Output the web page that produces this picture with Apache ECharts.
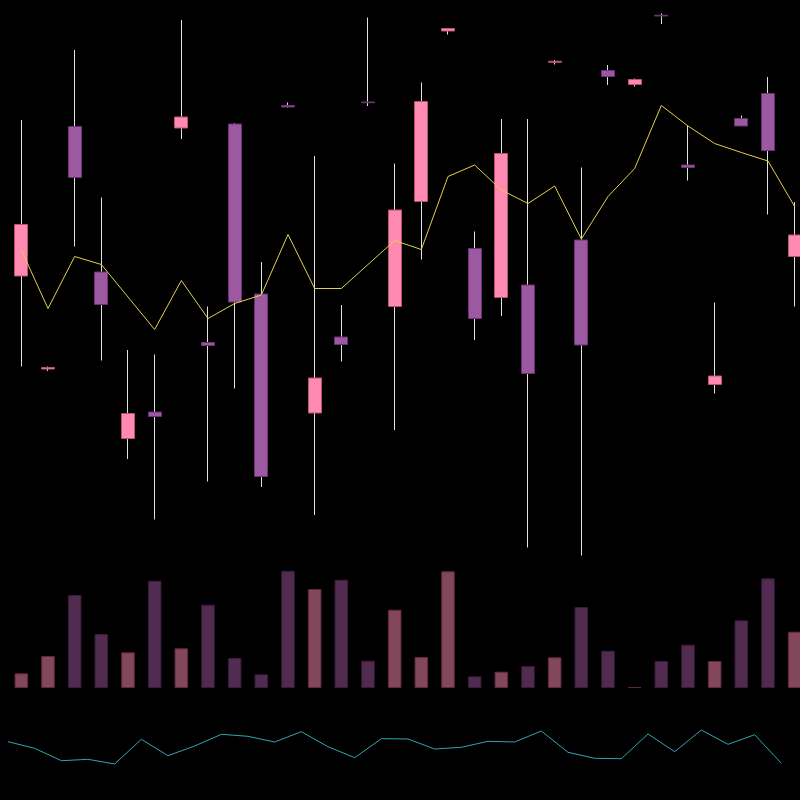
<!DOCTYPE html>
<html>
<head>
<meta charset="utf-8">
<script src="https://cdn.jsdelivr.net/npm/echarts@6/dist/echarts.min.js"></script>
<style>html,body{margin:0;padding:0;background:#000;}#c{width:800px;height:800px;}</style>
</head>
<body>
<div id="c"></div>
<script>
const categories = Array.from({length: 30}, (_, i) => 'D' + (i + 1));
const opens  = [56.8, 38.2, 86.7, 57.6, 24.3, 29.6, 86.4, 43.5, 87.2, 53.2, 90.9, 29.4, 44.6, 91.6, 50.7, 71.7, 105.8, 62.3, 52.5, 55.0, 99.55, 64.0, 97.9, 95.1, 108.95, 79.0, 35.1, 88.3, 93.3, 60.7];
const closes = [67.1, 38.5, 76.5, 51.1, 29.3, 28.7, 88.6, 42.9, 51.6, 16.7, 90.6, 36.4, 43.1, 91.45, 70.0, 91.7, 106.3, 48.3, 81.3, 37.3, 99.75, 43.0, 96.7, 96.1, 108.8, 78.5, 36.8, 86.8, 81.9, 65.0];
const lows   = [38.7, 37.8, 62.7, 39.9, 20.2, 8.1, 84.2, 15.7, 34.3, 14.6, 90.5, 9.0, 39.7, 90.8, 26.0, 60.1, 105.1, 44.0, 48.8, 2.5, 99.1, 0.9, 95.0, 94.7, 107.2, 75.9, 33.3, 86.8, 69.1, 50.7];
const highs  = [88.0, 38.7, 102.0, 72.5, 42.0, 41.1, 108.0, 50.7, 87.4, 59.6, 91.5, 80.8, 51.0, 108.5, 79.3, 95.5, 106.4, 65.7, 88.2, 88.2, 100.0, 78.5, 99.0, 96.3, 109.3, 86.8, 51.5, 88.9, 96.6, 71.6];
const maLine = [62.0, 50.3, 60.7, 59.1, 52.6, 46.1, 55.9, 48.3, 51.3, 53.0, 65.1, 54.3, 54.3, 59.1, 63.9, 62.1, 76.7, 79.0, 74.0, 71.3, 74.8, 64.2, 72.7, 78.3, 90.9, 86.8, 83.3, 81.5, 79.8, 70.7];
const volumes = [14.7, 32, 93, 54, 35.7, 107.3, 39.7, 83.3, 30, 13.7, 117.3, 99, 108.3, 27.3, 78.3, 31, 116.7, 11.7, 16.3, 22, 30.7, 81, 37.3, 1, 27, 43.3, 27, 67.7, 109.7, 56.3];
const lowerLine = [38.3, 31.7, 19.3, 20.7, 16.0, 40.7, 24.3, 34.0, 45.7, 43.7, 38.0, 48.3, 33.3, 22.3, 41.3, 41.0, 31.0, 32.7, 38.7, 38.0, 49.0, 27.7, 21.7, 21.3, 46.0, 28.3, 50.0, 35.7, 45.3, 16.7];

const PINK = '#ff89b0', PINK_BORDER = '#b5546f';
const PURPLE = '#9c58a0', PURPLE_BORDER = '#6a3270';
const WICK = '#e2e2e2';

const wickData = categories.map((_, i) => [opens[i], closes[i], lows[i], highs[i]]);
const bodyData = categories.map((_, i) => [opens[i], closes[i], Math.min(opens[i], closes[i]), Math.max(opens[i], closes[i])]);
const volumeData = volumes.map((v, i) => {
  const up = closes[i] >= opens[i];
  return {value: v, itemStyle: {color: up ? '#84475a' : '#522b50', borderColor: up ? '#5e2a3e' : '#3a1a3a', borderWidth: 1}};
});

const chart = echarts.init(document.getElementById('c'), null, {renderer: 'canvas'});
chart.setOption({
  backgroundColor: '#000',
  animation: false,
  grid: [
    {left: 8, width: 800, top: 10, height: 550, outerBoundsMode: 'none', containLabel: false},
    {left: 8, width: 800, top: 560, height: 128, outerBoundsMode: 'none', containLabel: false},
    {left: 8, width: 773.33, top: 700, height: 80, outerBoundsMode: 'none', containLabel: false}
  ],
  xAxis: [
    {type: 'category', data: categories, gridIndex: 0, show: false, boundaryGap: true},
    {type: 'category', data: categories, gridIndex: 1, show: false, boundaryGap: true},
    {type: 'category', data: categories, gridIndex: 2, show: false, boundaryGap: false}
  ],
  yAxis: [
    {type: 'value', gridIndex: 0, min: 0, max: 110, show: false, splitLine: {show: false}},
    {type: 'value', gridIndex: 1, min: 0, max: 128, show: false, splitLine: {show: false}},
    {type: 'value', gridIndex: 2, min: 0, max: 80, show: false, splitLine: {show: false}}
  ],
  series: [
    {
      type: 'candlestick', name: 'wick', xAxisIndex: 0, yAxisIndex: 0,
      data: wickData, barWidth: 1,
      itemStyle: {color: WICK, color0: WICK, borderColor: WICK, borderColor0: WICK, borderColorDoji: WICK, borderWidth: 1},
      z: 1
    },
    {
      type: 'candlestick', name: 'body', xAxisIndex: 0, yAxisIndex: 0,
      data: bodyData, barWidth: '51%',
      itemStyle: {color: PINK, color0: PURPLE, borderColor: PINK_BORDER, borderColor0: PURPLE_BORDER, borderColorDoji: PINK_BORDER, borderWidth: 1},
      z: 2
    },
    {
      type: 'line', name: 'MA', xAxisIndex: 0, yAxisIndex: 0,
      data: maLine, showSymbol: false, symbol: 'none',
      lineStyle: {color: '#e3d24a', width: 1}, z: 3
    },
    {
      type: 'bar', name: 'Volume', xAxisIndex: 1, yAxisIndex: 1,
      data: volumeData, barWidth: '51%'
    },
    {
      type: 'line', name: 'Lower', xAxisIndex: 2, yAxisIndex: 2,
      data: lowerLine, showSymbol: false, symbol: 'none',
      lineStyle: {color: '#2fa6b5', width: 1}
    }
  ]
});
</script>
</body>
</html>
